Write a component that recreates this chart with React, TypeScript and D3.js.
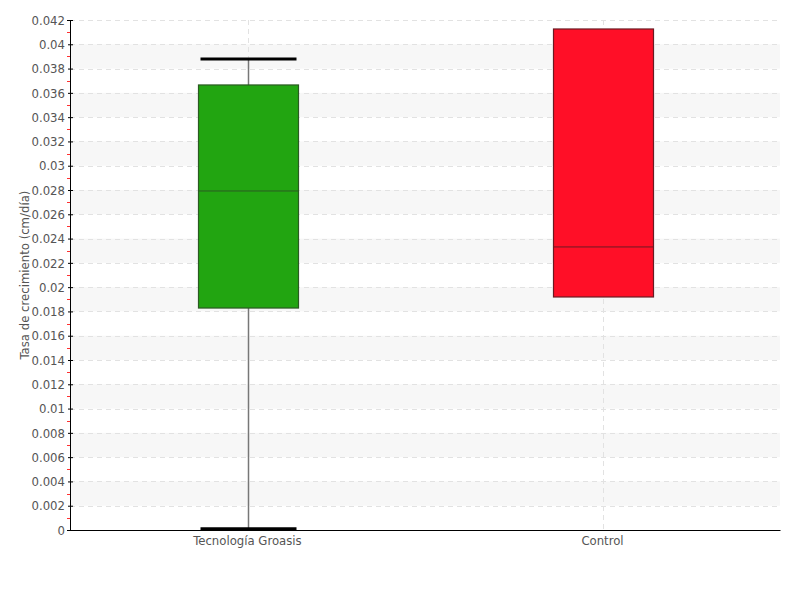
import React, { useEffect, useRef } from 'react';
import * as d3 from 'd3';

const categories = ['Tecnología Groasis', 'Control'];
const lowWhisker = [0.0001, 0.01919];
const q1 = [0.01828, 0.01919];
const median = [0.02792, 0.02331];
const q3 = [0.03665, 0.04126];
const highWhisker = [0.03879, 0.04126];
const fills = ['#22a511', '#ff0f27'];
const strokes = ['#2b5a22', '#6b1a22'];
const yTicks = d3.range(0, 0.0421, 0.002);
const yMinorTicks = d3.range(0.001, 0.042, 0.002);
const yTitle = 'Tasa de crecimiento (cm/día)';

const FONT = "'DejaVu Sans Condensed', 'Liberation Sans Narrow', 'DejaVu Sans', sans-serif";

const App: React.FC = () => {
  const svgRef = useRef<SVGSVGElement>(null);

  useEffect(() => {
    const svg = d3.select(svgRef.current);
    svg.selectAll('*').remove();

    const margin = { top: 20, right: 20, bottom: 70, left: 70 };
    const width = 800;
    const height = 600;

    const x = d3.scaleBand<string>()
      .domain(categories)
      .range([margin.left, width - margin.right])
      .padding(0);

    const y = d3.scaleLinear()
      .domain([0, 0.042])
      .range([height - margin.bottom, margin.top]);

    // alternating bands: [0.002,0.004], [0.006,0.008] ... [0.038,0.040]
    svg.append('g')
      .selectAll('rect')
      .data(yTicks.filter((_, i) => i > 0 && i % 2 === 0))
      .join('rect')
      .attr('x', margin.left + 1)
      .attr('width', width - margin.right - margin.left - 1)
      .attr('y', d => y(d))
      .attr('height', d => y(d - 0.002) - y(d))
      .attr('fill', '#f7f7f7');

    // horizontal grid
    svg.append('g')
      .selectAll('line')
      .data(yTicks.slice(1))
      .join('line')
      .attr('x1', margin.left)
      .attr('x2', width - margin.right)
      .attr('y1', d => Math.round(y(d)) + 0.5)
      .attr('y2', d => Math.round(y(d)) + 0.5)
      .attr('stroke', '#e2e2e2')
      .attr('stroke-dasharray', '5,4');

    // vertical grid
    svg.append('g')
      .selectAll('line')
      .data(categories)
      .join('line')
      .attr('x1', d => Math.round(x(d)! + x.bandwidth() / 2) + 0.5)
      .attr('x2', d => Math.round(x(d)! + x.bandwidth() / 2) + 0.5)
      .attr('y1', margin.top)
      .attr('y2', height - margin.bottom)
      .attr('stroke', '#e2e2e2')
      .attr('stroke-dasharray', '5,4');

    const boxW = 100;
    const capW = 96;
    const g = svg.append('g');
    categories.forEach((c, i) => {
      const cx = Math.round(x(c)! + x.bandwidth() / 2) + 0.5;
      // whisker
      g.append('line')
        .attr('x1', cx).attr('x2', cx)
        .attr('y1', y(lowWhisker[i])).attr('y2', y(highWhisker[i]))
        .attr('stroke', '#777').attr('stroke-width', 1.5);
      // caps
      if (highWhisker[i] > q3[i]) {
        g.append('line')
          .attr('x1', cx - capW / 2).attr('x2', cx + capW / 2)
          .attr('y1', y(highWhisker[i])).attr('y2', y(highWhisker[i]))
          .attr('stroke', '#000').attr('stroke-width', 3);
      }
      if (lowWhisker[i] < q1[i]) {
        g.append('line')
          .attr('x1', cx - capW / 2).attr('x2', cx + capW / 2)
          .attr('y1', y(lowWhisker[i])).attr('y2', y(lowWhisker[i]))
          .attr('stroke', '#000').attr('stroke-width', 3);
      }
      // box
      g.append('rect')
        .attr('x', cx - boxW / 2)
        .attr('width', boxW)
        .attr('y', y(q3[i]))
        .attr('height', y(q1[i]) - y(q3[i]))
        .attr('fill', fills[i])
        .attr('stroke', strokes[i])
        .attr('stroke-width', 1.2);
      // median
      g.append('line')
        .attr('x1', cx - boxW / 2).attr('x2', cx + boxW / 2)
        .attr('y1', y(median[i])).attr('y2', y(median[i]))
        .attr('stroke', strokes[i]).attr('stroke-width', 1);
    });

    // y axis
    const yAxis = svg.append('g')
      .attr('transform', `translate(${margin.left},0)`)
      .call(d3.axisLeft(y).tickValues(yTicks).tickSize(3).tickPadding(2)
        .tickFormat(d => d3.format('~g')(+d)));
    yAxis.select('.domain').attr('stroke', '#000');
    yAxis.selectAll('.tick line').attr('stroke', '#000').attr('x2', 3).attr('x1', -2);
    yAxis.selectAll('.tick text')
      .attr('fill', '#555')
      .attr('font-family', FONT)
      .attr('font-size', 13);

    svg.append('g')
      .selectAll('line')
      .data(yMinorTicks)
      .join('line')
      .attr('x1', margin.left - 3)
      .attr('x2', margin.left)
      .attr('y1', d => Math.round(y(d)) + 0.5)
      .attr('y2', d => Math.round(y(d)) + 0.5)
      .attr('stroke', '#ff3030');

    // x axis
    const xAxis = svg.append('g')
      .attr('transform', `translate(0,${height - margin.bottom})`)
      .call(d3.axisBottom(x).tickSize(0).tickPadding(6));
    xAxis.select('.domain').attr('stroke', '#000');
    xAxis.selectAll('.tick text')
      .attr('fill', '#555')
      .attr('font-family', FONT)
      .attr('font-size', 13);

    svg.append('text')
      .attr('transform', `translate(29,${(margin.top + height - margin.bottom) / 2}) rotate(-90)`)
      .attr('text-anchor', 'middle')
      .attr('fill', '#555')
      .attr('font-family', FONT)
      .attr('font-size', 13)
      .text(yTitle);
  }, []);

  return <svg ref={svgRef} width={800} height={600} style={{ position: 'absolute', left: 0, top: 0 }} />;
};

export default App;
